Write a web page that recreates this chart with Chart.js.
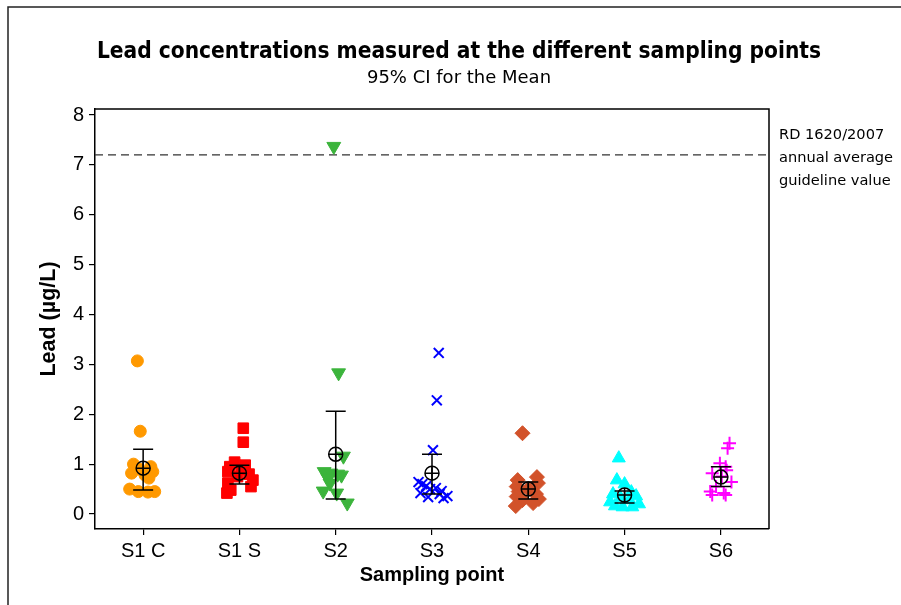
<!DOCTYPE html>
<html>
<head>
<meta charset="utf-8">
<script src="https://cdn.jsdelivr.net/npm/chart.js@4.4.0/dist/chart.umd.min.js"></script>
<style>
  html, body { margin: 0; padding: 0; background: #fff; }
</style>
</head>
<body>
<canvas id="leadChart" width="901" height="605"></canvas>
<script>
// sampling points (x categories) and y ticks
const categories = ["S1 C", "S1 S", "S2", "S3", "S4", "S5", "S6"];
const yTicks = [0, 1, 2, 3, 4, 5, 6, 7, 8];
const guideline = 7.2;

// individual lead readings (µg/L) per sampling point
const s1cValues = [3.07, 1.66, 1.0, 0.95, 0.9, 0.85, 0.82, 0.78, 0.72, 0.5, 0.45, 0.45, 0.44];
const s1sValues = [1.72, 1.44, 1.04, 0.98, 0.95, 0.9, 0.85, 0.8, 0.75, 0.68, 0.62, 0.55, 0.48, 0.42];
const s2Values  = [7.37, 2.83, 1.16, 0.85, 0.82, 0.8, 0.78, 0.72, 0.62, 0.46, 0.42, 0.22];
const s3Values  = [3.23, 2.28, 1.28, 0.64, 0.6, 0.56, 0.52, 0.5, 0.46, 0.42, 0.4, 0.36, 0.34, 0.32];
const s4Values  = [1.62, 0.74, 0.68, 0.62, 0.55, 0.5, 0.45, 0.4, 0.35, 0.3, 0.28, 0.22, 0.16];
const s5Values  = [1.12, 0.68, 0.6, 0.44, 0.4, 0.36, 0.32, 0.28, 0.24, 0.2, 0.16, 0.14, 0.14];
const s6Values  = [1.42, 1.32, 1.02, 0.95, 0.88, 0.82, 0.75, 0.64, 0.55, 0.45, 0.42, 0.38, 0.38];

// horizontal jitter of each reading, in category units
const s1cJitter = [-0.06, -0.03, -0.1, 0.08, -0.04, 0.1, -0.12, 0.02, 0.06, -0.14, 0.12, -0.05, 0.05];
const s1sJitter = [0.04, 0.04, -0.05, 0.06, -0.1, 0.02, -0.12, 0.1, -0.02, 0.14, -0.12, 0.12, -0.09, -0.13];
const s2Jitter  = [-0.02, 0.03, 0.08, -0.12, -0.05, 0.02, 0.06, -0.08, -0.06, -0.13, 0.01, 0.12];
const s3Jitter  = [0.07, 0.05, 0.01, -0.14, -0.1, -0.06, 0.04, -0.02, 0.1, -0.12, 0.08, 0.16, -0.04, 0.12];
const s4Jitter  = [-0.06, 0.09, -0.11, 0.1, -0.12, 0.0, -0.1, 0.08, -0.12, 0.11, -0.06, 0.05, -0.13];
const s5Jitter  = [-0.06, -0.08, 0.0, 0.07, -0.12, 0.12, -0.04, 0.05, -0.15, 0.15, -0.1, 0.08, -0.02];
const s6Jitter  = [0.09, 0.07, -0.01, 0.05, 0.06, -0.09, 0.01, 0.11, -0.05, -0.11, 0.03, -0.09, 0.05];

// mean and 95% CI per sampling point
const means  = [0.92, 0.82, 1.20, 0.82, 0.50, 0.38, 0.74];
const ciLow  = [0.48, 0.60, 0.30, 0.40, 0.30, 0.22, 0.55];
const ciHigh = [1.30, 0.98, 2.06, 1.20, 0.64, 0.46, 0.95];

const groupValues = [s1cValues, s1sValues, s2Values, s3Values, s4Values, s5Values, s6Values];
const groupJitter = [s1cJitter, s1sJitter, s2Jitter, s3Jitter, s4Jitter, s5Jitter, s6Jitter];

const colors   = ["#FF9900", "#FF0000", "#3CB43C", "#0000FF", "#D2522A", "#00FFFF", "#FF00FF"];
const styles   = ["circle", "rect", "triangle", "crossRot", "rectRot", "triangle", "cross"];
const radii    = [6, 7.5, 8, 7, 7.5, 7.5, 6.5];
const rotation = [0, 0, 180, 0, 0, 0, 0];
const borders  = [1, 1, 1, 2, 1, 1, 2];

const pointDatasets = categories.map((name, i) => ({
  label: name,
  order: 5,
  data: groupValues[i].map((v, k) => ({ x: i + groupJitter[i][k], y: v })),
  pointStyle: styles[i],
  pointRadius: radii[i],
  rotation: rotation[i],
  backgroundColor: colors[i],
  borderColor: colors[i],
  borderWidth: borders[i]
}));

const meanCircle = {
  label: "Mean",
  order: 1,
  data: means.map((m, i) => ({ x: i, y: m })),
  pointStyle: "circle",
  pointRadius: 7,
  backgroundColor: "rgba(0,0,0,0)",
  borderColor: "#000",
  borderWidth: 1.5
};
const meanCross = {
  label: "Mean cross",
  order: 0,
  data: means.map((m, i) => ({ x: i, y: m })),
  pointStyle: "cross",
  pointRadius: 7,
  borderColor: "#000",
  borderWidth: 1.5
};

const decor = {
  id: "decor",
  beforeDraw(chart) {
    const ctx = chart.ctx;
    ctx.save();
    ctx.fillStyle = "#fff";
    ctx.fillRect(0, 0, chart.width, chart.height);
    // outer frame (top + left edge)
    ctx.strokeStyle = "#222";
    ctx.lineWidth = 1.5;
    ctx.beginPath();
    ctx.moveTo(8, chart.height);
    ctx.lineTo(8, 7);
    ctx.lineTo(chart.width, 7);
    ctx.stroke();
    ctx.restore();
  },
  beforeDatasetsDraw(chart) {
    const { ctx, chartArea: a, scales: { y } } = chart;
    const gy = y.getPixelForValue(guideline);
    ctx.save();
    ctx.strokeStyle = "#333";
    ctx.lineWidth = 1.3;
    ctx.setLineDash([8, 5]);
    ctx.beginPath();
    ctx.moveTo(a.left, gy);
    ctx.lineTo(a.right, gy);
    ctx.stroke();
    ctx.restore();
  },
  beforeDatasetDraw(chart, args) {
    if (args.index !== categories.length) return;
    const { ctx, scales: { x, y } } = chart;
    ctx.save();
    ctx.strokeStyle = "#000";
    ctx.lineWidth = 1.5;
    categories.forEach((c, i) => {
      const px = x.getPixelForValue(i);
      const lo = y.getPixelForValue(ciLow[i]);
      const hi = y.getPixelForValue(ciHigh[i]);
      ctx.beginPath();
      ctx.moveTo(px, lo); ctx.lineTo(px, hi);
      ctx.moveTo(px - 10, lo); ctx.lineTo(px + 10, lo);
      ctx.moveTo(px - 10, hi); ctx.lineTo(px + 10, hi);
      ctx.stroke();
    });
    ctx.restore();
  },
  afterDraw(chart) {
    const { ctx, chartArea: a } = chart;
    ctx.save();
    // top and right edges of the plot box
    ctx.strokeStyle = "#000";
    ctx.lineWidth = 1.5;
    ctx.beginPath();
    ctx.moveTo(a.left, a.top);
    ctx.lineTo(a.right, a.top);
    ctx.lineTo(a.right, a.bottom);
    ctx.stroke();

    ctx.fillStyle = "#000";
    ctx.textAlign = "center";
    ctx.textBaseline = "middle";
    ctx.font = "bold 22.5px 'DejaVu Sans Condensed', 'DejaVu Sans'";
    ctx.fillText("Lead concentrations measured at the different sampling points", 459, 52);
    ctx.font = "18px 'DejaVu Sans'";
    ctx.fillText("95% CI for the Mean", 459, 78);

    ctx.textAlign = "left";
    ctx.font = "14.6px 'DejaVu Sans'";
    ["RD 1620/2007", "annual average", "guideline value"].forEach((t, k) => {
      ctx.fillText(t, 779, 135 + k * 23);
    });
    ctx.restore();
  }
};

new Chart(document.getElementById("leadChart"), {
  type: "scatter",
  data: { datasets: [...pointDatasets, meanCircle, meanCross] },
  plugins: [decor],
  options: {
    responsive: false,
    animation: false,
    layout: { padding: { top: 109, right: 132, bottom: 0, left: 0 } },
    plugins: { legend: { display: false }, tooltip: { enabled: false } },
    scales: {
      x: {
        type: "linear",
        min: -0.5,
        max: 6.5,
        afterFit: s => { s.height = 76; },
        afterBuildTicks: s => { s.ticks = categories.map((c, i) => ({ value: i })); },
        ticks: {
          color: "#000",
          padding: 4,
          font: { family: "'Liberation Sans', Arial", size: 20 },
          callback: v => categories[v]
        },
        grid: { display: true, drawOnChartArea: false, drawTicks: true, tickLength: 6, color: "#000", lineWidth: 1.2 },
        border: { display: true, color: "#000", width: 1.5 },
        title: {
          display: true,
          text: "Sampling point",
          color: "#000",
          font: { family: "'Liberation Sans', Arial", size: 20, weight: "bold" },
          padding: { top: 0, bottom: 18 }
        }
      },
      y: {
        type: "linear",
        min: -0.3,
        max: 8.12,
        afterFit: s => { s.width = 95; },
        afterBuildTicks: s => { s.ticks = yTicks.map(v => ({ value: v })); },
        ticks: {
          color: "#000",
          padding: 5,
          font: { family: "'Liberation Sans', Arial", size: 20 }
        },
        grid: { display: true, drawOnChartArea: false, drawTicks: true, tickLength: 6, color: "#000", lineWidth: 1.2 },
        border: { display: true, color: "#000", width: 1.5 },
        title: {
          display: true,
          text: "Lead (µg/L)",
          color: "#000",
          font: { family: "'Liberation Sans', Arial", size: 21.5, weight: "bold" },
          padding: { top: 36, bottom: 0 }
        }
      }
    }
  }
});
</script>
</body>
</html>
